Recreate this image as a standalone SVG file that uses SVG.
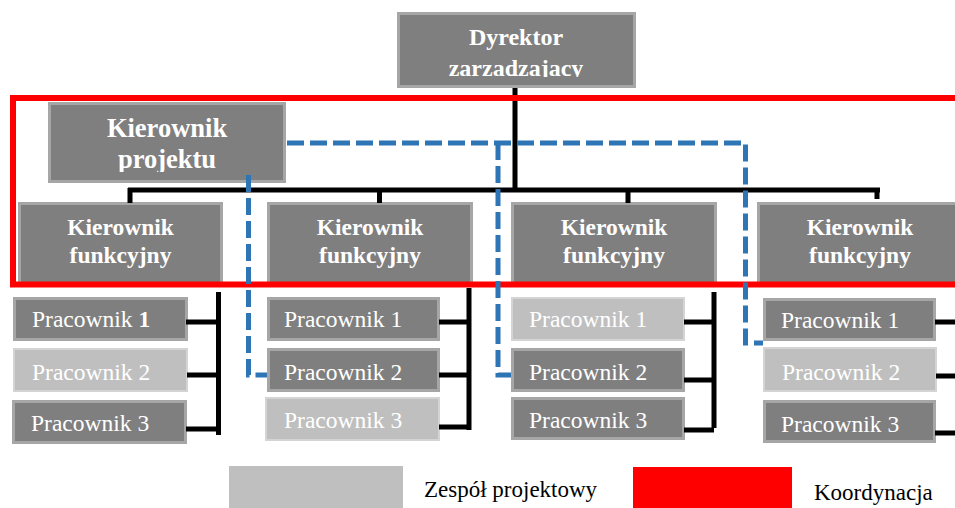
<svg xmlns="http://www.w3.org/2000/svg" width="955" height="508" viewBox="0 0 955 508">
<style>
text{font-family:'Liberation Serif','Times New Roman','DejaVu Serif',serif}
.dark{fill:#7f7f7f;stroke:#a6a6a6;stroke-width:3}
.light{fill:#bfbfbf;stroke:#d4d4d4;stroke-width:2}
.hb{font-weight:bold;fill:#ffffff;text-anchor:middle}
.w{font-size:23.5px;fill:#ffffff}
.blk{stroke:#000;stroke-width:5;fill:none}
.blue{stroke:#2e75b6;stroke-width:5;fill:none;stroke-dasharray:17 6}
.leg{font-size:23px;fill:#000}
</style>
<defs>
<clipPath id="clipDyr"><rect x="390" y="0" width="260" height="77"/></clipPath>
<clipPath id="clipKp"><rect x="40" y="95" width="260" height="77"/></clipPath>
</defs>
<rect width="955" height="508" fill="#ffffff"/>

<g id="dyrektor" font-family="Liberation Serif, serif">
<rect class="dark" x="398.5" y="13.5" width="236" height="73"/>
<g clip-path="url(#clipDyr)">
<text class="hb" x="516" y="45" font-size="24">Dyrektor</text>
<text class="hb" x="516" y="76" font-size="24">zarzadzajacy</text>
</g>
</g>

<g id="kierownik-projektu">
<rect class="dark" x="49.5" y="103.5" width="235" height="78"/>
<g clip-path="url(#clipKp)">
<text class="hb" x="167" y="137" font-size="26.5">Kierownik</text>
<text class="hb" x="167" y="168" font-size="26.5">projektu</text>
</g>
</g>

<g id="kf1">
<rect class="dark" x="19.5" y="203.5" width="202" height="82"/>
<text class="hb" x="120.5" y="235" font-size="23.5">Kierownik</text>
<text class="hb" x="120.5" y="263" font-size="23.5">funkcyjny</text>
</g>
<g id="kf2">
<rect class="dark" x="268.5" y="203.5" width="203" height="82"/>
<text class="hb" x="370" y="235" font-size="23.5">Kierownik</text>
<text class="hb" x="370" y="263" font-size="23.5">funkcyjny</text>
</g>
<g id="kf3">
<rect class="dark" x="512.5" y="203.5" width="203" height="82"/>
<text class="hb" x="614" y="235" font-size="23.5">Kierownik</text>
<text class="hb" x="614" y="263" font-size="23.5">funkcyjny</text>
</g>
<g id="kf4">
<rect class="dark" x="758.5" y="203.5" width="203" height="82"/>
<text class="hb" x="860" y="235" font-size="23.5">Kierownik</text>
<text class="hb" x="860" y="263" font-size="23.5">funkcyjny</text>
</g>

<g id="p1-1"><rect class="dark" x="14.5" y="298.5" width="172" height="41"/><text class="w" x="32" y="327">Pracownik <tspan font-weight="bold">1</tspan></text></g>
<g id="p1-2"><rect class="light" x="14" y="349" width="173" height="42"/><text class="w" x="32" y="380">Pracownik 2</text></g>
<g id="p1-3"><rect class="dark" x="13.5" y="401.5" width="172" height="41"/><text class="w" x="31" y="431">Pracownik 3</text></g>

<g id="p2-1"><rect class="dark" x="268.5" y="298.5" width="170" height="41"/><text class="w" x="284" y="327">Pracownik 1</text></g>
<g id="p2-2"><rect class="dark" x="268.5" y="349.5" width="170" height="41"/><text class="w" x="284" y="380">Pracownik 2</text></g>
<g id="p2-3"><rect class="light" x="266" y="398" width="173" height="42"/><text class="w" x="284" y="428">Pracownik 3</text></g>

<g id="p3-1"><rect class="light" x="512" y="298" width="172" height="42"/><text class="w" x="529" y="327">Pracownik 1</text></g>
<g id="p3-2"><rect class="dark" x="512.5" y="349.5" width="171" height="41"/><text class="w" x="529" y="380">Pracownik 2</text></g>
<g id="p3-3"><rect class="dark" x="512.5" y="398.5" width="171" height="40"/><text class="w" x="529" y="428">Pracownik 3</text></g>

<g id="p4-1"><rect class="dark" x="764.5" y="299.5" width="170" height="40"/><text class="w" x="781" y="328">Pracownik 1</text></g>
<g id="p4-2"><rect class="light" x="764" y="348" width="172" height="43"/><text class="w" x="782" y="380">Pracownik 2</text></g>
<g id="p4-3"><rect class="dark" x="764.5" y="401.5" width="170" height="40"/><text class="w" x="781" y="432">Pracownik 3</text></g>

<g id="connectors">
<path class="blk" d="M515 88 V190 M128 190 H880 M130 188 V203 M379.5 190 V203 M628 190 V203 M877 188 V199"/>
<path class="blk" d="M218.5 292 V435 M186 322 H218.5 M187 375 H218.5 M186 429 H218.5"/>
<path class="blk" d="M469 288 V430 M439 322 H469 M439 375 H469 M439 427 H469"/>
<path class="blk" d="M714 292 V428 M684 322 H714 M684 380 H714 M684 430 H714"/>
<path class="blk" d="M935 322 H960 M936 376 H960 M935 433 H960"/>
</g>

<g id="koordynacja">
<rect x="13" y="98" width="960" height="186.5" fill="none" stroke="#ff0000" stroke-width="6"/>
</g>

<g id="zespol-connectors">
<path class="blue" d="M287 143 H745.5 V343 H763"/>
<path class="blue" d="M498 143 V375 H511"/>
<path class="blue" d="M248.5 175 V375 H267"/>
</g>

<g id="legenda">
<rect x="229" y="466" width="174" height="45" fill="#bfbfbf"/>
<text class="leg" x="424" y="497">Zespół projektowy</text>
<rect x="633" y="467" width="159" height="45" fill="#ff0000"/>
<text class="leg" x="814" y="500">Koordynacja</text>
</g>
</svg>
